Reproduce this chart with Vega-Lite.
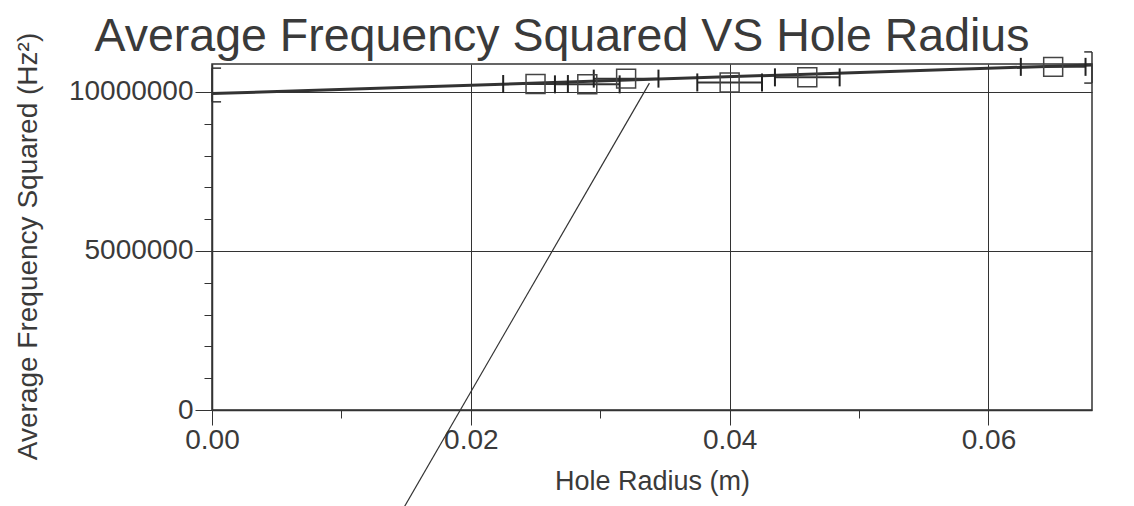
{
  "$schema": "https://vega.github.io/schema/vega-lite/v6.json",
  "width": 880,
  "height": 346,
  "autosize": {"type": "none"},
  "padding": {"left": 212, "top": 64, "right": 42, "bottom": 96},
  "background": "white",
  "config": {
    "font": "Liberation Sans",
    "view": {"stroke": "#333333", "strokeWidth": 1.5}
  },
  "title": {
    "text": "Average Frequency Squared VS Hole Radius",
    "font": "Liberation Sans",
    "fontSize": 46.5,
    "fontWeight": "normal",
    "color": "#3a3a3a",
    "anchor": "middle",
    "dx": -90,
    "offset": -65,
    "baseline": "alphabetic"
  },
  "datasets": {
    "points": [
      {"radius": 0.025, "freq2": 10250000, "rlo": 0.0225, "rhi": 0.0275},
      {"radius": 0.029, "freq2": 10240000, "rlo": 0.0265, "rhi": 0.0315},
      {"radius": 0.032, "freq2": 10420000, "rlo": 0.0295, "rhi": 0.0345},
      {"radius": 0.040, "freq2": 10300000, "rlo": 0.0375, "rhi": 0.0425},
      {"radius": 0.046, "freq2": 10460000, "rlo": 0.0435, "rhi": 0.0485},
      {"radius": 0.065, "freq2": 10790000, "rlo": 0.0625, "rhi": 0.0675}
    ],
    "fit": [
      {"radius": 0.0, "freq2": 9950000},
      {"radius": 0.068, "freq2": 10850000}
    ],
    "steep": [
      {"radius": 0.0145, "freq2": -3300000},
      {"radius": 0.0338, "freq2": 10280000}
    ],
    "bracketV": [
      {"radius": 0.0, "lo": 9690000, "hi": 10750000},
      {"radius": 0.068, "lo": 10280000, "hi": 11260000}
    ],
    "bracketH": [
      {"r0": 0.0, "r1": 0.0007, "freq2": 10750000},
      {"r0": 0.0, "r1": 0.0007, "freq2": 9690000},
      {"r0": 0.0674, "r1": 0.068, "freq2": 11260000},
      {"r0": 0.0674, "r1": 0.068, "freq2": 10280000}
    ]
  },
  "layer": [
    {
      "data": {"name": "fit"},
      "mark": {"type": "line", "color": "#333333", "strokeWidth": 3, "clip": false},
      "encoding": {
        "x": {
          "field": "radius",
          "type": "quantitative",
          "scale": {"domain": [0, 0.068], "nice": false, "zero": false},
          "axis": {
            "values": [0, 0.01, 0.02, 0.03, 0.04, 0.05, 0.06],
            "tickCount": 20,
            "format": ".2f",
            "labelExpr": "abs(datum.value * 50 - round(datum.value * 50)) < 0.000001 ? datum.label : ''",
            "tickSize": {"condition": {"test": "abs(datum.value * 50 - round(datum.value * 50)) < 0.000001", "value": 15}, "value": 8},
            "tickColor": "#333333",
            "tickWidth": 1,
            "grid": true,
            "gridColor": "#333333",
            "gridWidth": 1,
            "gridOpacity": {"condition": {"test": "abs(datum.value * 50 - round(datum.value * 50)) < 0.000001 && datum.value > 0", "value": 1}, "value": 0},
            "domain": true,
            "domainColor": "#333333",
            "domainWidth": 1.5,
            "labelFont": "Liberation Sans",
            "labelFontSize": 28,
            "labelColor": "#3a3a3a",
            "labelPadding": 1,
            "labelFlush": false,
            "labelOverlap": false,
            "title": "Hole Radius (m)",
            "titleFont": "Liberation Sans",
            "titleFontSize": 27,
            "titleFontWeight": "normal",
            "titleColor": "#3a3a3a",
            "titleBaseline": "alphabetic",
            "titleY": 79
          }
        },
        "y": {
          "field": "freq2",
          "type": "quantitative",
          "scale": {"domain": [0, 10880000], "nice": false, "zero": false},
          "axis": {
            "values": [0, 1000000, 2000000, 3000000, 4000000, 5000000, 6000000, 7000000, 8000000, 9000000, 10000000],
            "tickCount": 30,
            "format": "d",
            "labelExpr": "datum.value % 5000000 === 0 ? datum.label : ''",
            "tickSize": {"condition": {"test": "datum.value % 5000000 === 0", "value": 17}, "value": 8},
            "tickColor": "#333333",
            "tickWidth": 1,
            "grid": true,
            "gridColor": "#333333",
            "gridWidth": 1,
            "gridOpacity": {"condition": {"test": "datum.value % 5000000 === 0 && datum.value > 0", "value": 1}, "value": 0},
            "domain": true,
            "domainColor": "#333333",
            "domainWidth": 1.5,
            "labelFont": "Liberation Sans",
            "labelFontSize": 28,
            "labelColor": "#3a3a3a",
            "labelPadding": 2,
            "labelFlush": false,
            "labelOverlap": false,
            "title": "Average Frequency Squared (Hz²)",
            "titleFont": "Liberation Sans",
            "titleFontSize": 28,
            "titleFontWeight": "normal",
            "titleColor": "#3a3a3a",
            "titleAngle": -90,
            "titleAlign": "center",
            "titleBaseline": "alphabetic",
            "titleX": -176,
            "titleY": 182
          }
        }
      }
    },
    {
      "data": {"name": "steep"},
      "mark": {"type": "line", "color": "#333333", "strokeWidth": 1.2, "clip": false},
      "encoding": {
        "x": {"field": "radius", "type": "quantitative"},
        "y": {"field": "freq2", "type": "quantitative"}
      }
    },
    {
      "data": {"name": "points"},
      "mark": {"type": "rule", "color": "#333333", "strokeWidth": 2, "clip": false},
      "encoding": {
        "x": {"field": "rlo", "type": "quantitative"},
        "x2": {"field": "rhi"},
        "y": {"field": "freq2", "type": "quantitative"}
      }
    },
    {
      "data": {"name": "points"},
      "mark": {"type": "tick", "orient": "vertical", "color": "#222222", "size": 18, "thickness": 2, "opacity": 1, "clip": false},
      "encoding": {
        "x": {"field": "rlo", "type": "quantitative"},
        "y": {"field": "freq2", "type": "quantitative"}
      }
    },
    {
      "data": {"name": "points"},
      "mark": {"type": "tick", "orient": "vertical", "color": "#222222", "size": 18, "thickness": 2, "opacity": 1, "clip": false},
      "encoding": {
        "x": {"field": "rhi", "type": "quantitative"},
        "y": {"field": "freq2", "type": "quantitative"}
      }
    },
    {
      "data": {"name": "points"},
      "mark": {"type": "point", "shape": "square", "filled": false, "size": 360, "stroke": "#444444", "strokeWidth": 1.5, "opacity": 1, "clip": false},
      "encoding": {
        "x": {"field": "radius", "type": "quantitative"},
        "y": {"field": "freq2", "type": "quantitative"}
      }
    },
    {
      "data": {"name": "bracketV"},
      "mark": {"type": "rule", "color": "#333333", "strokeWidth": 1.5, "clip": false},
      "encoding": {
        "x": {"field": "radius", "type": "quantitative"},
        "y": {"field": "lo", "type": "quantitative"},
        "y2": {"field": "hi"}
      }
    },
    {
      "data": {"name": "bracketH"},
      "mark": {"type": "rule", "color": "#333333", "strokeWidth": 1.5, "clip": false},
      "encoding": {
        "x": {"field": "r0", "type": "quantitative"},
        "x2": {"field": "r1"},
        "y": {"field": "freq2", "type": "quantitative"}
      }
    }
  ]
}
